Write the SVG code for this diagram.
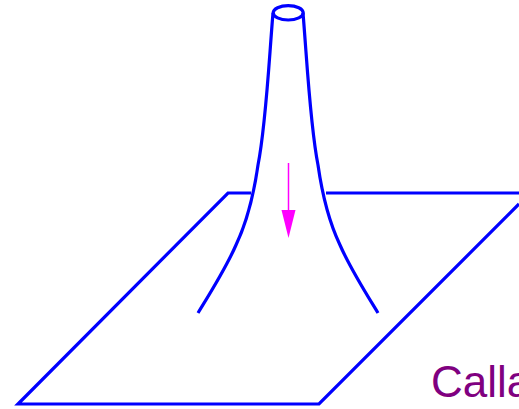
<svg xmlns="http://www.w3.org/2000/svg" width="519" height="409" viewBox="0 0 519 409">
<style>
.b{fill:none;stroke:#00f;stroke-width:3.200;stroke-linejoin:miter}
.m{fill:#f0f;stroke:none}
</style>
<rect width="519" height="409" fill="#fff"/>
<g id="connectors">
<path class="b" d="M251 193H228L18 404H319L519 204"/>
<path class="b" d="M326 193H519"/>
<path class="b" d="M273 13C269 60 266 125 258 165C253 200 246 224 236 245C226 268 212 290 198 313"/>
<path class="b" d="M303 13C307 60 310 125 318 165C323 200 330 224 340 245C350 268 364 290 378 313"/>
<line x1="288.500" y1="163" x2="288.500" y2="212" stroke="#f0f" stroke-width="1.500"/>
<polygon class="m" points="281.500,210 295.500,210 288.500,238"/>
</g>
<g id="top"><ellipse class="b" cx="288.200" cy="12.800" rx="15" ry="7.200"/></g>
<g id="label"><text x="431" y="397" font-family="Liberation Sans, Arial, sans-serif" font-size="44" fill="#800080">Calla</text></g>
</svg>
